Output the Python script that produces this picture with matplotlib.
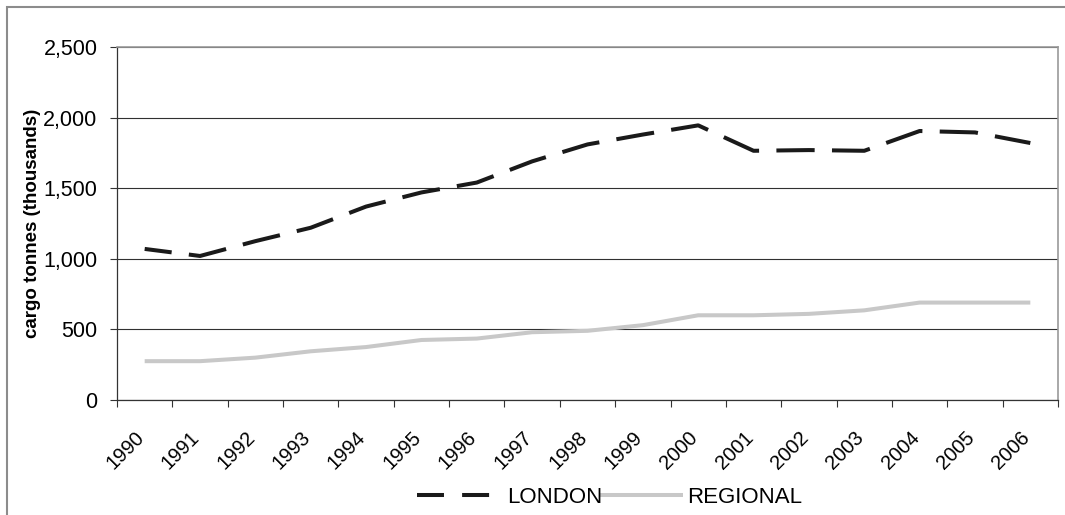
import matplotlib
matplotlib.use("Agg")
import matplotlib.pyplot as plt
from matplotlib.lines import Line2D
from matplotlib.patches import Rectangle
from matplotlib.ticker import FuncFormatter
import matplotlib.transforms as mtransforms

plt.rcParams['font.family'] = ['Liberation Sans', 'DejaVu Sans']

years = ['1990', '1991', '1992', '1993', '1994', '1995', '1996', '1997', '1998',
         '1999', '2000', '2001', '2002', '2003', '2004', '2005', '2006']
london = [1070, 1020, 1125, 1220, 1370, 1470, 1540, 1690, 1810, 1880, 1945,
          1765, 1770, 1765, 1905, 1895, 1820]
regional = [275, 275, 300, 345, 375, 425, 435, 480, 490, 530, 600, 600, 610,
            635, 690, 690, 690]
yticks = [0, 500, 1000, 1500, 2000, 2500]

W, H = 1065, 515
fig = plt.figure(figsize=(W / 100, H / 100), dpi=100)
fig.patch.set_facecolor('white')

# outer chart border (only left/top visible in the crop)
fig.add_artist(Rectangle((7 / W, -0.05), 1.2, 1 - 7 / H + 0.05, transform=fig.transFigure,
                         fill=False, edgecolor='#8c8c8c', linewidth=1.5))

left, right, top, bottom = 117, 1058, 47, 400
ax = fig.add_axes([left / W, 1 - bottom / H, (right - left) / W, (bottom - top) / H])

x = list(range(len(years)))
ax.plot(x, regional, color='#c8c8c8', linewidth=2.9, solid_capstyle='butt', zorder=3)
ax.plot(x, london, color='#1a1a1a', linewidth=2.9,
        linestyle=(2.75, (9.5, 4.3)), dash_capstyle='butt', zorder=4)

ax.set_xlim(-0.5, len(years) - 0.5)
ax.set_ylim(0, 2500)
ax.set_yticks(yticks)
ax.yaxis.set_major_formatter(FuncFormatter(lambda v, p: f"{int(v):,}"))
ax.grid(axis='y', color='#303030', linewidth=0.8)
ax.set_axisbelow(True)

# category labels at centres, tick marks at boundaries
ax.set_xticks(x)
ax.set_xticklabels(years, rotation=45, ha='right', va='top', rotation_mode='anchor')
ax.set_xticks([i - 0.5 for i in range(len(years) + 1)], minor=True)
ax.tick_params(axis='x', which='major', length=0, pad=0, labelsize=14.5)
ax.tick_params(axis='x', which='minor', length=5, width=0.8, color='#333333', direction='out')
ax.tick_params(axis='y', length=5, width=0.8, color='#333333', pad=9, labelsize=15.5)
offset = mtransforms.ScaledTranslation(-10 / 100, -28 / 100, fig.dpi_scale_trans)
for lab in ax.get_xticklabels():
    lab.set_transform(lab.get_transform() + offset)

for s in ['left', 'bottom']:
    ax.spines[s].set_color('#333333')
    ax.spines[s].set_linewidth(0.9)
for s in ['top', 'right']:
    ax.spines[s].set_color('#999999')
    ax.spines[s].set_linewidth(1.2)

fig.text(33 / W, 1 - 223 / H, 'cargo tonnes (thousands)', rotation=90, ha='center',
         va='center', fontsize=13.5, fontweight='bold')

# legend (Excel-style, drawn in figure pixels)
ly = 1 - 495 / H
fig.add_artist(Line2D([417 / W, 490 / W], [ly, ly], transform=fig.transFigure,
                      color='#1a1a1a', linewidth=2.9, linestyle=(0, (6.7, 4.5)),
                      dash_capstyle='butt'))
fig.text(507 / W, ly, 'LONDON', ha='left', va='center_baseline', fontsize=16)
fig.add_artist(Line2D([600 / W, 683 / W], [ly, ly], transform=fig.transFigure,
                      color='#c8c8c8', linewidth=2.9, solid_capstyle='butt'))
fig.text(687 / W, ly, 'REGIONAL', ha='left', va='center_baseline', fontsize=16)

fig.savefig('out.png', dpi=100, facecolor='white')
